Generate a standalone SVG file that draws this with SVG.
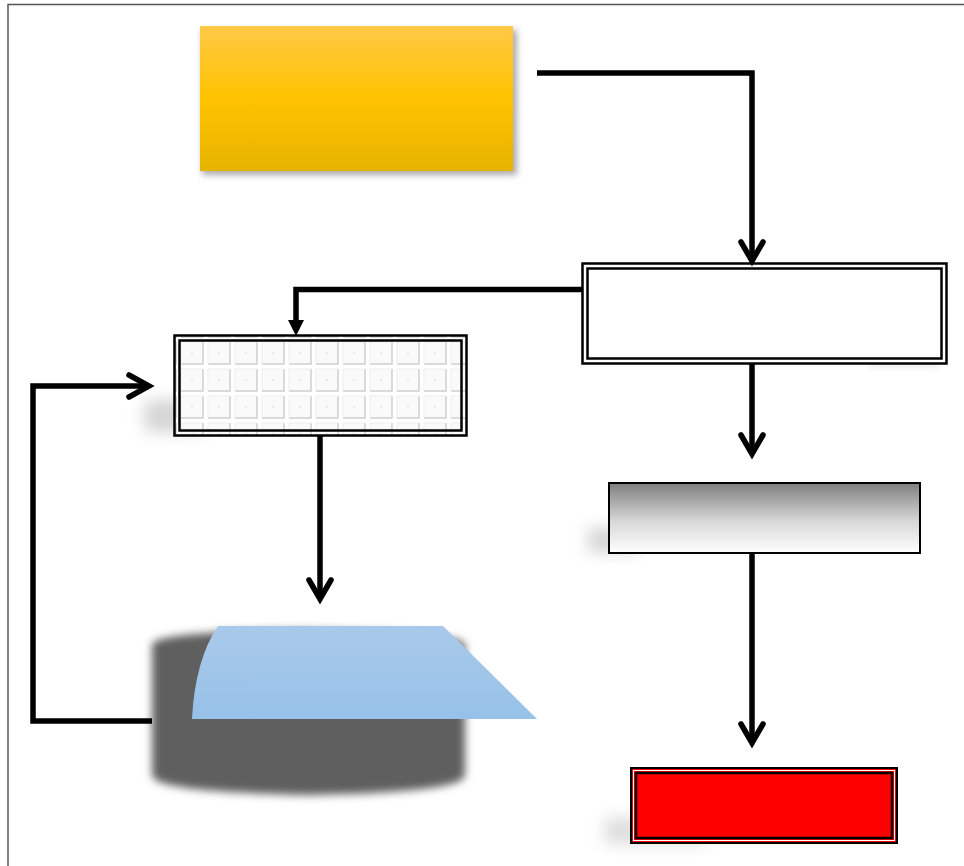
<svg xmlns="http://www.w3.org/2000/svg" width="964" height="866" viewBox="0 0 964 866">
<defs>
<linearGradient id="gYellow" x1="0" y1="0" x2="0" y2="1">
<stop offset="0" stop-color="#FFC846"/>
<stop offset="0.5" stop-color="#FFC300"/>
<stop offset="1" stop-color="#E6B400"/>
</linearGradient>
<linearGradient id="gGray" x1="0" y1="0" x2="0" y2="1">
<stop offset="0" stop-color="#7f7f7f"/>
<stop offset="0.55" stop-color="#d8d8d8"/>
<stop offset="1" stop-color="#ffffff"/>
</linearGradient>
<linearGradient id="gBlue" x1="0" y1="0" x2="0" y2="1">
<stop offset="0" stop-color="#A9C9EA"/>
<stop offset="1" stop-color="#97C1E8"/>
</linearGradient>
<filter id="fShadow" x="-20%" y="-20%" width="140%" height="150%">
<feGaussianBlur stdDeviation="3"/>
</filter>
<filter id="fBlur" x="-20%" y="-20%" width="140%" height="140%">
<feGaussianBlur stdDeviation="4"/>
</filter>
<filter id="fSoft" x="-50%" y="-50%" width="200%" height="200%">
<feGaussianBlur stdDeviation="8"/>
</filter>
<pattern id="pGrid" x="179" y="340" width="27" height="27" patternUnits="userSpaceOnUse">
<rect width="27" height="27" fill="#ffffff"/>
<rect x="2" y="2" width="22" height="22" fill="#fafafa"/>
<path d="M24,2 L24,24 L2,24" fill="none" stroke="#cfcfcf" stroke-width="1.5"/>
<path d="M2,24 L2,2 L24,2" fill="none" stroke="#eeeeee" stroke-width="1"/>
<circle cx="13" cy="13" r="1" fill="#e4e4e4"/>
</pattern>
</defs>
<style>
.conn{fill:none;stroke:#000;stroke-width:5.5;stroke-linejoin:miter}
.head{fill:none;stroke:#000;stroke-width:5.5;stroke-linecap:round;stroke-linejoin:miter}
.dbl{fill:none;stroke:#000;stroke-width:2.5}
</style>
<rect x="8" y="4.5" width="1000" height="1000" fill="#ffffff" stroke="#555" stroke-width="1.5"/>

<g id="node-yellow">
<rect x="202" y="30" width="315" height="145" fill="#888" opacity="0.7" filter="url(#fShadow)"/>
<rect x="200" y="26" width="313" height="145" fill="url(#gYellow)"/>
</g>

<g id="node-top-right">
<rect x="870" y="350" width="70" height="18" fill="#ddd" opacity="0.5" filter="url(#fShadow)"/>
<rect x="582" y="263" width="365" height="101" fill="#fff"/>
<rect x="582.5" y="263.5" width="364" height="100" class="dbl"/>
<rect x="587.5" y="268.5" width="354" height="90" class="dbl"/>
</g>

<g id="node-grid">
<rect x="145" y="400" width="60" height="32" fill="#aaa" opacity="0.5" filter="url(#fSoft)"/>
<rect x="174" y="335" width="293" height="101" fill="url(#pGrid)"/>
<rect x="174.5" y="335.5" width="292" height="100" class="dbl"/>
<rect x="179.5" y="340.5" width="282" height="90" class="dbl"/>
</g>

<g id="node-gradient">
<rect x="588" y="528" width="50" height="24" fill="#aaa" opacity="0.5" filter="url(#fSoft)"/>
<rect x="609" y="483" width="311" height="70" fill="url(#gGray)" stroke="#000" stroke-width="2"/>
</g>

<g id="node-red">
<rect x="605" y="818" width="100" height="26" fill="#bbb" opacity="0.5" filter="url(#fSoft)"/>
<rect x="630" y="767" width="268" height="77" fill="#f00"/>
<rect x="631" y="768" width="266" height="75" fill="none" stroke="#000" stroke-width="2"/>
<rect x="633.5" y="770.5" width="261" height="70" fill="none" stroke="#fff" stroke-width="1"/>
<rect x="636" y="773" width="256" height="65" fill="#f00" stroke="#000" stroke-width="2.5"/>
</g>

<g id="node-shape">
<path d="M152,645 Q152,632 300,630 Q465,632 465,645 L465,775 Q465,792 310,795 Q152,792 152,775 Z" fill="#5e5e5e" filter="url(#fBlur)"/>
<path d="M218,626 L443,626 L537,719 L192,719 Q195,660 218,626 Z" fill="url(#gBlue)"/>
</g>

<g id="connectors">
<path class="conn" d="M537,73 L752,73 L752,260"/>
<path class="head" d="M741,242 L752,261 L763,242"/>
<path class="conn" d="M752,364 L752,453"/>
<path class="head" d="M741,435 L752,454 L763,435"/>
<path class="conn" d="M582,289.5 L296,289.5 L296,322"/>
<path d="M288,320 L304,320 L296,336 Z" fill="#000"/>
<path class="conn" d="M320,436 L320,598"/>
<path class="head" d="M309,580 L320,599 L331,580"/>
<path class="conn" d="M152,721 L33,721 L33,386 L148,386"/>
<path class="head" d="M129,375 L149,386 L129,397"/>
<path class="conn" d="M752,553 L752,742"/>
<path class="head" d="M741,724 L752,743 L763,724"/>
</g>
</svg>
